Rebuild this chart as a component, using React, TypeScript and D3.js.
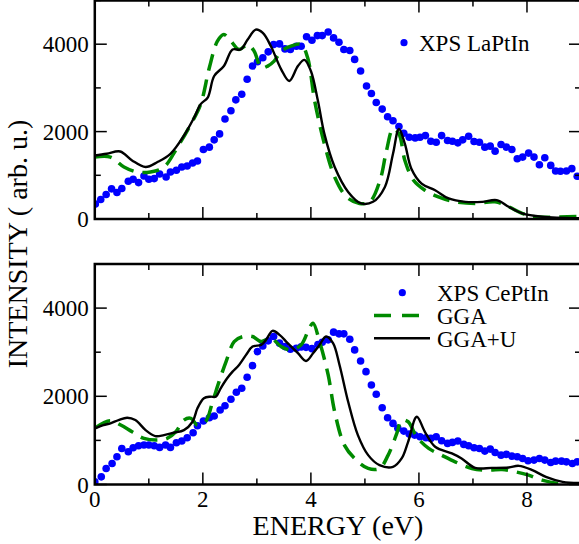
import React from "react";
import * as d3 from "d3";

// ---- data (energy in eV, intensity in arb. u.) ----
const xpsLaPtIn: [number, number][] = [
  [0.01, 341], [0.11, 447], [0.21, 560], [0.31, 690], [0.41, 606], [0.5, 697], [0.62, 864], [0.71, 909],
  [0.81, 833], [0.91, 985], [1.0, 909], [1.1, 924], [1.2, 1030], [1.32, 962], [1.4, 1076], [1.51, 1114],
  [1.61, 1189], [1.71, 1212], [1.81, 1280], [1.9, 1326], [2.01, 1591], [2.12, 1644], [2.21, 1811], [2.31, 1947],
  [2.41, 2288], [2.52, 2477], [2.61, 2727], [2.72, 2856], [2.82, 3197], [2.92, 3500], [3.01, 3598], [3.11, 3689],
  [3.21, 3825], [3.31, 3993], [3.42, 4007], [3.52, 3893], [3.62, 3878], [3.73, 3954], [3.82, 3954], [3.92, 4170],
  [4.02, 4090], [4.12, 4197], [4.21, 4197], [4.32, 4280], [4.42, 4144], [4.52, 4045], [4.61, 3878], [4.72, 3856],
  [4.81, 3652], [4.92, 3386], [5.03, 3045], [5.12, 2871], [5.21, 2666], [5.32, 2515], [5.42, 2340], [5.52, 2250],
  [5.63, 2114], [5.72, 1962], [5.82, 1871], [5.93, 1856], [6.02, 1871], [6.12, 1909], [6.22, 1780], [6.32, 1757],
  [6.42, 1909], [6.53, 1795], [6.62, 1780], [6.72, 1742], [6.81, 1811], [6.92, 1894], [7.02, 1773], [7.12, 1757],
  [7.22, 1644], [7.32, 1667], [7.41, 1553], [7.52, 1705], [7.62, 1644], [7.72, 1591], [7.82, 1379], [7.92, 1417],
  [8.03, 1508], [8.13, 1417], [8.23, 1242], [8.33, 1401], [8.44, 1227], [8.53, 1098], [8.62, 1091], [8.73, 1098],
  [8.83, 1152], [8.93, 977],
];

const ggaLaPtIn: [number, number][] = [
  [0, 1416], [0.29, 1416], [0.54, 1189], [0.78, 1075], [1.03, 1075], [1.28, 1189], [1.53, 1644], [1.78, 2175],
  [1.96, 2629], [2.12, 3462], [2.27, 4068], [2.39, 4220], [2.52, 4068], [2.67, 3878], [2.83, 3992], [2.95, 3840],
  [3.08, 3462], [3.2, 3500], [3.32, 3613], [3.45, 3840], [3.63, 3954], [3.82, 3992], [3.94, 3689], [4.07, 2704],
  [4.25, 1720], [4.44, 962], [4.66, 507], [4.9, 356], [5.09, 393], [5.28, 886], [5.4, 1568], [5.52, 2061],
  [5.63, 1947], [5.74, 1340], [5.9, 886], [6.11, 659], [6.36, 507], [6.67, 393], [7.04, 356], [7.41, 393],
  [7.66, 280], [7.91, 130], [8.16, 52], [9, 60],
];

const ggaULaPtIn: [number, number][] = [
  [0, 1454], [0.22, 1492], [0.47, 1545], [0.69, 1340], [0.94, 1189], [1.16, 1303], [1.4, 1492], [1.65, 1909],
  [1.84, 2325], [1.96, 2629], [2.09, 2780], [2.21, 3272], [2.39, 3500], [2.55, 3878], [2.7, 3878], [2.83, 4106],
  [2.98, 4333], [3.11, 4257], [3.26, 3954], [3.45, 3425], [3.6, 3159], [3.76, 3500], [3.88, 3640], [4.0, 3386],
  [4.13, 2704], [4.25, 1947], [4.44, 1189], [4.69, 620], [4.93, 356], [5.15, 393], [5.37, 734], [5.52, 1492],
  [5.63, 2061], [5.74, 1720], [5.86, 1152], [6.05, 811], [6.3, 659], [6.55, 470], [6.86, 393], [7.17, 393],
  [7.44, 432], [7.66, 280], [7.91, 130], [8.28, 52], [9, 16],
];

const xpsCePtIn: [number, number][] = [
  [0, 59], [0.12, 173], [0.21, 364], [0.32, 477], [0.41, 628], [0.5, 818], [0.62, 742], [0.71, 833],
  [0.81, 878], [0.91, 894], [1.0, 894], [1.1, 878], [1.2, 841], [1.31, 894], [1.4, 841], [1.51, 947],
  [1.61, 985], [1.71, 1060], [1.82, 1174], [1.9, 1333], [2.01, 1439], [2.12, 1515], [2.21, 1553], [2.32, 1689],
  [2.41, 1787], [2.52, 1932], [2.62, 2091], [2.72, 2182], [2.82, 2432], [2.92, 2695], [3.01, 3014], [3.11, 3143],
  [3.21, 3257], [3.31, 3355], [3.42, 3205], [3.52, 3127], [3.62, 3068], [3.73, 3091], [3.82, 3120], [3.91, 3110],
  [4.02, 3080], [4.13, 3175], [4.21, 3227], [4.32, 3280], [4.42, 3455], [4.52, 3416], [4.61, 3416], [4.72, 3295],
  [4.81, 3052], [4.92, 2802], [5.02, 2559], [5.12, 2257], [5.21, 2045], [5.32, 1741], [5.42, 1514], [5.52, 1386],
  [5.61, 1273], [5.72, 1211], [5.82, 1143], [5.92, 1120], [6.02, 1082], [6.13, 1060], [6.22, 1045], [6.32, 1082],
  [6.42, 991], [6.53, 932], [6.62, 955], [6.72, 985], [6.83, 909], [6.92, 878], [7.02, 833], [7.12, 818],
  [7.22, 757], [7.32, 803], [7.41, 727], [7.52, 666], [7.62, 682], [7.72, 643], [7.82, 628], [7.92, 591],
  [8.02, 537], [8.13, 553], [8.23, 591], [8.33, 553], [8.44, 500], [8.53, 530], [8.64, 530], [8.73, 514],
  [8.84, 477], [8.93, 514],
];

const ggaCePtIn: [number, number][] = [
  [0, 1280], [0.29, 1445], [0.48, 1348], [0.69, 1195], [0.91, 1045], [1.16, 1007], [1.34, 1045], [1.5, 1195],
  [1.65, 1461], [1.78, 1500], [1.9, 1348], [2.05, 1423], [2.18, 1877], [2.3, 2332], [2.43, 2786], [2.58, 3241],
  [2.74, 3355], [2.92, 3355], [3.08, 3241], [3.26, 3318], [3.45, 3127], [3.63, 3052], [3.82, 3166], [3.97, 3545],
  [4.04, 3659], [4.16, 3241], [4.32, 2484], [4.44, 1650], [4.62, 893], [4.81, 591], [5.06, 364], [5.27, 364],
  [5.43, 666], [5.59, 1159], [5.68, 1461], [5.8, 1423], [5.96, 1082], [6.18, 818], [6.42, 666], [6.67, 514],
  [6.98, 364], [7.29, 325], [7.54, 341], [7.79, 286], [8.03, 211], [8.28, 98], [8.59, 22], [9, 5],
];

const ggaUCePtIn: [number, number][] = [
  [0, 1273], [0.16, 1348], [0.29, 1386], [0.44, 1461], [0.6, 1514], [0.75, 1461], [0.94, 1234], [1.12, 1098],
  [1.28, 1120], [1.46, 1173], [1.65, 1234], [1.81, 1423], [1.9, 1727], [2.02, 1955], [2.14, 1991], [2.24, 1991],
  [2.33, 2182], [2.45, 2409], [2.55, 2559], [2.67, 2711], [2.8, 2939], [2.92, 3127], [3.08, 3166], [3.17, 3280],
  [3.29, 3484], [3.42, 3393], [3.57, 3205], [3.76, 2977], [3.91, 2802], [4.04, 2977], [4.16, 3166], [4.28, 3355],
  [4.41, 3205], [4.53, 2711], [4.69, 1877], [4.87, 1120], [5.06, 666], [5.27, 439], [5.52, 400], [5.68, 591],
  [5.8, 968], [5.96, 1536], [6.11, 1195], [6.3, 855], [6.61, 705], [6.79, 591], [7.04, 377], [7.35, 377],
  [7.66, 386], [7.85, 423], [8.1, 325], [8.35, 173], [8.66, 59], [9, 36],
];

const xMajor = [0, 2, 4, 6, 8];
const xMinor = [1, 3, 5, 7, 9];
const yMajor = [0, 2000, 4000];
const yMinor = [1000, 3000, 5000];

const GREEN = "#008a00";
const BLUE = "#0000ff";

const W = 579;
const H = 544;
const left = 94.8;
const right = 581;

const x = d3.scaleLinear().domain([0, 9]).range([left, right]);

// font set per text element
const serif = (size: number): React.CSSProperties => ({ fontFamily: "Liberation Serif", fontSize: size });

function Panel({
  id,
  top,
  bottom,
  xps,
  gga,
  ggaU,
  showXLabels,
}: {
  id: string;
  top: number;
  bottom: number;
  xps: [number, number][];
  gga: [number, number][];
  ggaU: [number, number][];
  showXLabels: boolean;
}) {
  const y = d3.scaleLinear().domain([0, 5000]).range([bottom, top]);
  const line = d3
    .line<[number, number]>()
    .x((d) => x(d[0]))
    .y((d) => y(d[1]))
    .curve(d3.curveCatmullRom.alpha(0.5));

  return (
    <g>
      <defs>
        <clipPath id={`clip-${id}`}>
          <rect x={left} y={top} width={right - left} height={bottom - top} />
        </clipPath>
      </defs>
      <g clipPath={`url(#clip-${id})`}>
        {xps.map((d, i) => (
          <circle key={i} cx={x(d[0])} cy={y(d[1])} r={3.8} fill={BLUE} />
        ))}
        <path d={line(gga) ?? ""} fill="none" stroke={GREEN} strokeWidth={3.5} strokeDasharray="17,9" />
        <path d={line(ggaU) ?? ""} fill="none" stroke="#000" strokeWidth={2.4} />
      </g>
      {/* ticks, inward on all four sides */}
      <g stroke="#000" strokeWidth={1.5}>
        {xMajor.map((v) => (
          <g key={`xM${v}`}>
            <line x1={x(v)} x2={x(v)} y1={bottom} y2={bottom - 12} />
            <line x1={x(v)} x2={x(v)} y1={top} y2={top + 12} />
          </g>
        ))}
        {xMinor.map((v) => (
          <g key={`xm${v}`}>
            <line x1={x(v)} x2={x(v)} y1={bottom} y2={bottom - 6} />
            <line x1={x(v)} x2={x(v)} y1={top} y2={top + 6} />
          </g>
        ))}
        {yMajor.map((v) => (
          <g key={`yM${v}`}>
            <line x1={left} x2={left + 12} y1={y(v)} y2={y(v)} />
            <line x1={right} x2={right - 12} y1={y(v)} y2={y(v)} />
          </g>
        ))}
        {yMinor.map((v) => (
          <g key={`ym${v}`}>
            <line x1={left} x2={left + 6} y1={y(v)} y2={y(v)} />
            <line x1={right} x2={right - 6} y1={y(v)} y2={y(v)} />
          </g>
        ))}
      </g>
      <rect x={left} y={top} width={right - left} height={bottom - top} fill="none" stroke="#000" strokeWidth={2.5} />
      {yMajor.map((v) => (
        <text key={`yl${v}`} x={left - 6} y={y(v) + 8} textAnchor="end" style={serif(23)}>
          {v}
        </text>
      ))}
      {showXLabels &&
        xMajor.map((v) => (
          <text key={`xl${v}`} x={x(v)} y={bottom + 22} textAnchor="middle" style={serif(23)}>
            {v}
          </text>
        ))}
    </g>
  );
}

export default function App() {
  return (
    <svg width={W} height={H} style={{ position: "absolute", left: 0, top: 0 }}>
      <rect x={0} y={0} width={W} height={H} fill="#fff" />
      <Panel id="top" top={0.5} bottom={219} xps={xpsLaPtIn} gga={ggaLaPtIn} ggaU={ggaULaPtIn} showXLabels={false} />
      <Panel id="bot" top={264} bottom={484.5} xps={xpsCePtIn} gga={ggaCePtIn} ggaU={ggaUCePtIn} showXLabels={true} />

      {/* top legend */}
      <circle cx={404} cy={42.7} r={3.6} fill={BLUE} />
      <text x={419} y={50.5} style={serif(23)}>XPS LaPtIn</text>

      {/* bottom legend */}
      <circle cx={402.3} cy={292.7} r={3.6} fill={BLUE} />
      <text x={437} y={300.5} style={serif(23)}>XPS CePtIn</text>
      <line x1={374} x2={430} y1={315.5} y2={315.5} stroke={GREEN} strokeWidth={3.5} strokeDasharray="17,11" />
      <text x={437} y={323.5} style={serif(23)}>GGA</text>
      <line x1={374} x2={430} y1={338.3} y2={338.3} stroke="#000" strokeWidth={2.4} />
      <text x={437} y={346.5} style={serif(23)}>GGA+U</text>

      {/* axis titles */}
      <text x={338} y={535} textAnchor="middle" style={serif(28)}>
        ENERGY (eV)
      </text>
      <text transform="translate(27,244) rotate(-90)" textAnchor="middle" style={serif(28)}>
        INTENSITY ( arb. u.)
      </text>
    </svg>
  );
}
